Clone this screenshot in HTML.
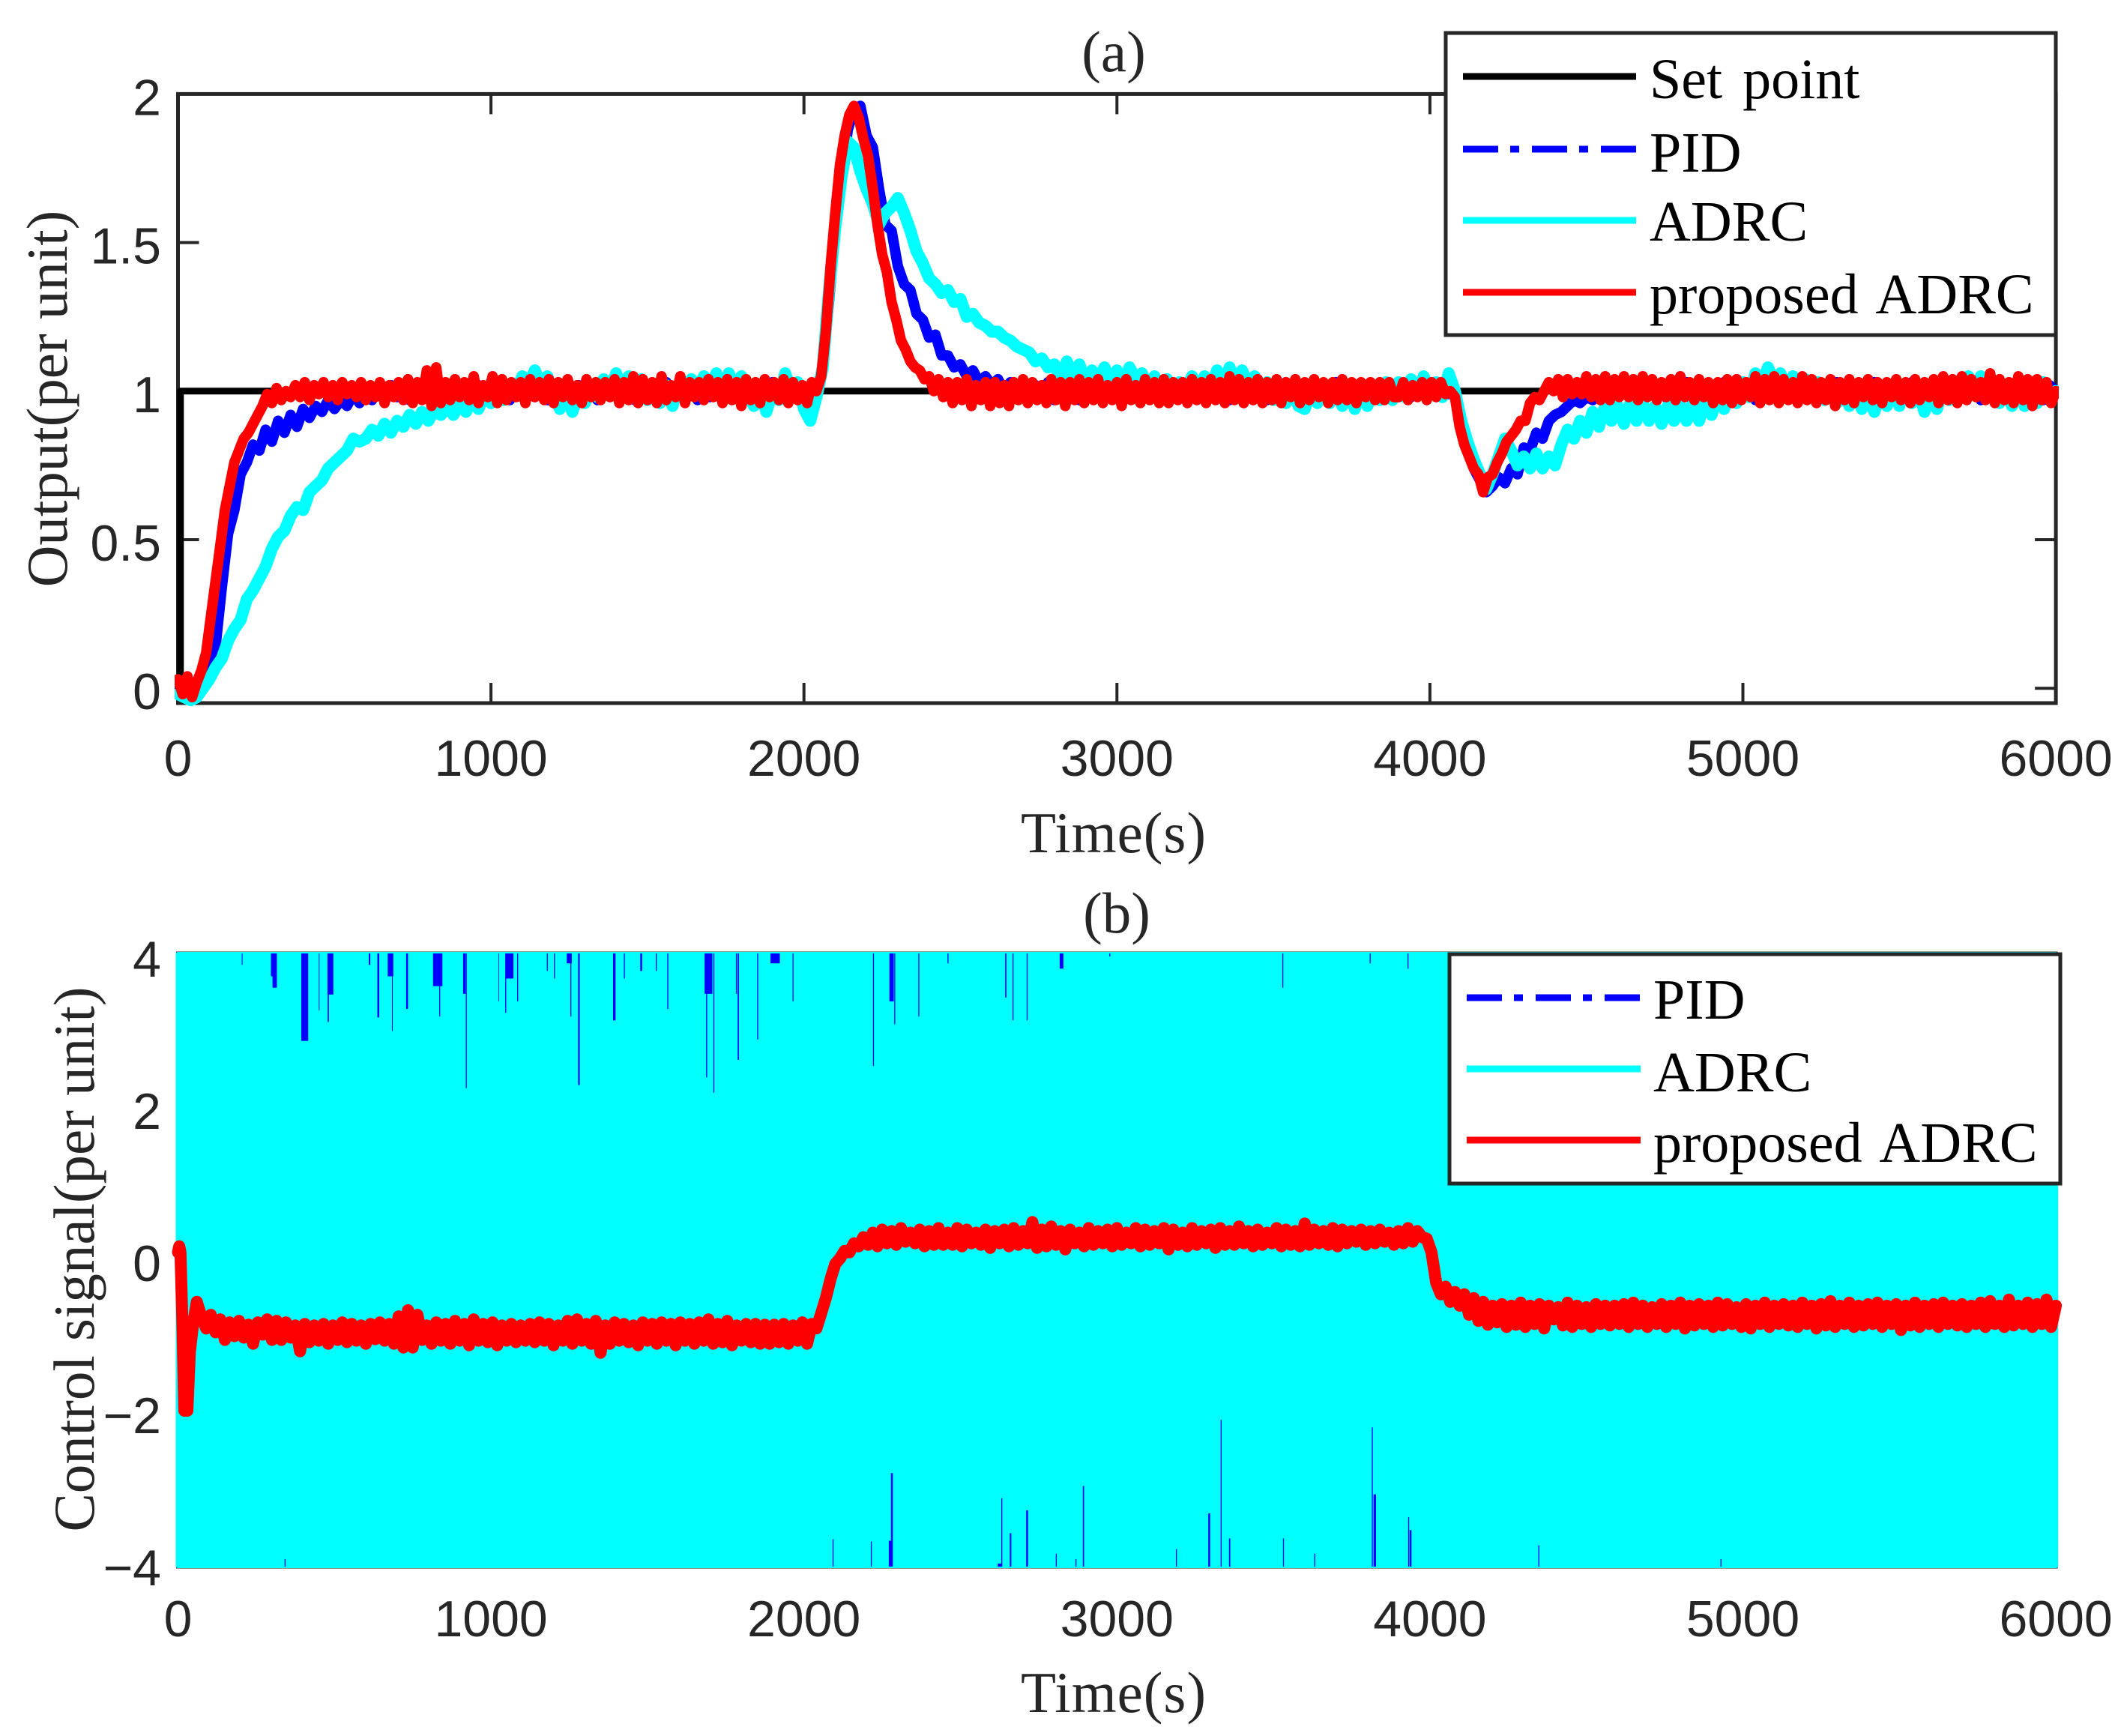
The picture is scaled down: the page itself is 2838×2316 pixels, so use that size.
<!DOCTYPE html>
<html lang="en">
<head>
<meta charset="utf-8">
<title>Output and control signal comparison</title>
<style>
html,body{margin:0;padding:0;background:#fff;}
svg{display:block;}
.serif{font-family:"Liberation Serif",serif;font-size:77px;fill:#262626;}
.time{letter-spacing:1px;}
.legend-text{font-family:"Liberation Serif",serif;font-size:76px;fill:#000;word-spacing:8px;}
.tick{font-family:"Liberation Sans",sans-serif;font-size:68px;fill:#262626;}
</style>
</head>
<body>
<svg id="figure" xmlns="http://www.w3.org/2000/svg" width="2838" height="2316" viewBox="0 0 2838 2316">
  <rect width="2838" height="2316" fill="#fff"/>
  <defs>
    <clipPath id="clipA"><rect x="233" y="125.4" width="2514" height="817"/></clipPath>
  </defs>
  <g id="axesA"></g>
  <g id="marksA" clip-path="url(#clipA)"></g>
  <g id="axesB"></g>
  <g id="marksB"></g>

  <text class="serif" x="1486" y="95" text-anchor="middle">(a)</text>
  <text class="serif time" x="1486" y="1137" text-anchor="middle">Time(s)</text>
  <text class="serif" text-anchor="middle" transform="translate(89 532) rotate(-90)">Output(per unit)</text>
  <text class="serif" x="1490" y="1244" text-anchor="middle">(b)</text>
  <text class="serif time" x="1486" y="2284" text-anchor="middle">Time(s)</text>
  <text class="serif" text-anchor="middle" transform="translate(125 1680) rotate(-90)">Control signal(per unit)</text>

  <g>
    <rect x="1929" y="44" width="814" height="403" fill="#fff" stroke="#262626" stroke-width="5"/>
    <line x1="1952" x2="2183" y1="102" y2="102" stroke="#000" stroke-width="9"/>
    <text class="legend-text" x="2201" y="131">Set point</text>
    <line x1="1952" x2="2183" y1="199" y2="199" stroke="#0000ff" stroke-width="9" stroke-dasharray="47 16 12 17"/>
    <text class="legend-text" x="2201" y="229">PID</text>
    <line x1="1952" x2="2183" y1="294" y2="294" stroke="#00ffff" stroke-width="9"/>
    <text class="legend-text" x="2201" y="321">ADRC</text>
    <line x1="1952" x2="2183" y1="390" y2="390" stroke="#ff0000" stroke-width="9"/>
    <text class="legend-text" x="2201" y="418">proposed ADRC</text>
  </g>
  <g>
    <rect x="1934" y="1273" width="815" height="306" fill="#fff" stroke="#262626" stroke-width="5"/>
    <line x1="1957" x2="2189" y1="1331" y2="1331" stroke="#0000ff" stroke-width="9" stroke-dasharray="47 16 12 17"/>
    <text class="legend-text" x="2206" y="1359">PID</text>
    <line x1="1957" x2="2189" y1="1426" y2="1426" stroke="#00ffff" stroke-width="9"/>
    <text class="legend-text" x="2206" y="1456">ADRC</text>
    <line x1="1957" x2="2189" y1="1521" y2="1521" stroke="#ff0000" stroke-width="9"/>
    <text class="legend-text" x="2206" y="1550">proposed ADRC</text>
  </g>
</svg>
<script>
// ---- shared x ticks ----
const xTickValues = [0,1000,2000,3000,4000,5000,6000];
const xTickLabels = ["0","1000","2000","3000","4000","5000","6000"];
// ---- panel (a) ticks ----
const yTickValuesA = [0,0.5,1,1.5,2];
const yTickLabelsA = ["0","0.5","1","1.5","2"];
// ---- panel (b) ticks ----
const yTickValuesB = [-4,-2,0,2,4];
const yTickLabelsB = ["\u22124","\u22122","0","2","4"];

// ---- panel (a) series ----
const setPointTime = [0,8,8,6000];
const setPointValues = [0,0,1,1];
const pidOutputStep = 20;
const pidOutput = [
.02,-.02,.01,-.03,.0,.04,.14,.34,.52,.6,.72,.76,.82,.8,.87,
.83,.9,.86,.92,.88,.94,.91,.95,.93,.97,.94,.97,.95,.99,.96,
1.0,.97,1.01,.97,1.02,.98,1.02,.97,1.02,.98,1.03,.97,1.02,.98,1.02,
.98,1.02,.97,1.02,.98,1.03,.98,1.02,.97,1.02,.98,1.02,.98,1.03,.97,
1.02,.98,1.03,.97,1.02,.98,1.02,.97,1.02,.98,1.03,.98,1.02,.97,1.02,
.98,1.02,.97,1.03,.98,1.02,.98,1.02,.97,1.02,.98,1.03,.97,1.02,.98,
.98,1.02,.97,1.02,.98,1.03,.97,1.02,.98,1.01,.98,1.01,1.0,1.08,1.3,
1.55,1.72,1.88,1.95,1.96,1.86,1.82,1.68,1.56,1.54,1.42,1.36,1.34,1.26,1.24,
1.18,1.19,1.12,1.12,1.08,1.09,1.05,1.07,1.03,1.05,1.02,1.04,1.0,1.03,.99,
1.02,.98,1.02,.98,1.03,.97,1.02,.98,1.02,.97,1.03,.98,1.02,.97,1.02,
.98,1.03,.98,1.02,.97,1.02,.98,1.03,.97,1.02,.98,1.02,.98,1.03,.97,
1.02,.98,1.02,.97,1.03,.98,1.02,.98,1.02,.97,1.02,.98,1.03,.97,1.02,
.98,1.02,.97,1.02,.98,1.03,.98,1.02,.97,1.02,.98,1.02,.97,1.03,.98,
.98,1.02,.98,1.02,.99,1.02,.98,1.02,.99,1.0,.88,.8,.74,.7,.66,
.68,.71,.69,.74,.72,.81,.8,.86,.84,.9,.92,.93,.95,.97,.96,
.98,.97,1.0,.98,1.02,.98,1.02,.98,1.02,.97,1.03,.98,1.02,.97,1.02,
.98,1.03,.97,1.02,.98,1.02,.97,1.03,.98,1.02,.98,1.02,.97,1.03,.98,
1.02,.97,1.02,.98,1.03,.98,1.02,.97,1.02,.98,1.03,.97,1.02,.98,1.02,
.97,1.03,.98,1.02,.97,1.02,.98,1.03,.98,1.02,.97,1.02,.98,1.03,.97,
1.02,.98,1.02,.97,1.03,.98,1.02,.98,1.02,.97,1.03,.98,1.02,.97,1.02,1.0];
const adrcOutputStep = 20;
const adrcOutput = [
-.02,-.03,-.04,-.03,.0,.03,.07,.1,.16,.2,.23,.3,.33,.37,.41,
.47,.51,.53,.58,.61,.6,.66,.68,.7,.74,.76,.78,.8,.84,.83,
.84,.87,.85,.89,.86,.9,.88,.92,.89,.93,.9,.94,.92,.95,.92,
.96,.93,.97,.94,.99,.96,1.0,.97,1.02,1.0,1.05,1.02,1.07,1.02,1.05,
.99,.94,.98,.93,.99,.96,1.02,.98,1.04,1.0,1.06,1.0,1.05,.98,1.04,
.97,1.02,.96,1.02,.95,1.02,.97,1.04,1.0,1.05,1.01,1.06,1.0,1.06,1.0,
1.05,.99,.95,1.0,.93,1.0,.97,1.06,1.0,1.03,.94,.9,.98,1.08,1.34,
1.55,1.72,1.84,1.82,1.74,1.68,1.63,1.56,1.6,1.62,1.65,1.6,1.54,1.47,1.43,
1.38,1.36,1.33,1.34,1.3,1.31,1.25,1.26,1.23,1.22,1.2,1.2,1.18,1.17,1.15,
1.14,1.13,1.1,1.11,1.08,1.09,1.04,1.1,1.05,1.09,1.03,1.07,1.04,1.08,1.03,
1.07,1.02,1.08,1.04,1.06,1.0,1.05,1.0,1.04,.99,1.03,1.0,1.05,1.0,1.05,
1.0,1.07,1.02,1.08,1.02,1.07,1.02,1.05,.98,1.03,.97,1.02,.96,1.02,.95,
.94,1.0,.96,1.01,.96,1.02,.95,1.0,.94,1.0,.95,1.0,.97,1.03,.97,
1.03,.98,1.04,.99,1.05,.99,1.03,.98,1.06,1.0,.9,.83,.77,.72,.67,
.72,.78,.84,.8,.75,.78,.74,.79,.74,.78,.75,.82,.87,.84,.9,
.86,.93,.88,.95,.9,.95,.89,.96,.9,.96,.9,.95,.89,.95,.9,
.95,.9,.96,.9,.97,.92,.99,.94,1.01,.96,1.03,.98,1.06,1.02,1.08,
1.03,1.06,1.0,1.05,.98,1.04,.99,1.03,.97,1.02,.96,1.01,.95,1.0,.94,
.98,.93,1.0,.95,1.02,.95,1.02,.96,1.01,.93,.99,.94,1.01,.97,1.03,
.98,1.05,1.0,1.05,.98,1.03,.96,1.02,.95,1.01,.95,1.02,.96,1.03,.98,1.0];
const proposedOutputStep = 15;
const proposedOutput = [
.03,-.02,.04,-.03,.02,.06,.12,.24,.36,.48,.6,.68,.76,.8,.84,.86,.89,.92,.95,.99,
.96,1.01,.97,1.0,.98,1.02,.98,1.03,.97,1.02,.99,1.03,.98,1.02,.97,1.03,.99,1.02,.98,1.03,
.97,1.02,.98,1.03,.96,1.02,.98,1.03,.97,1.04,.96,1.03,.97,1.07,.95,1.08,.96,1.03,.97,1.04,
.98,1.03,.97,1.05,.96,1.02,.98,1.05,.96,1.04,.97,1.03,.98,1.03,.96,1.04,.98,1.03,.97,1.04,
.96,1.03,.98,1.04,.97,1.02,.96,1.04,.98,1.03,.97,1.03,.98,1.04,.96,1.03,.97,1.05,.96,1.04,
.97,1.03,.96,1.05,.97,1.02,.98,1.05,.96,1.03,.98,1.03,.97,1.04,.98,1.03,.96,1.04,.97,1.03,
.95,1.04,.97,1.03,.96,1.04,.98,1.03,.97,1.04,.96,1.03,.97,1.02,.96,1.03,1.0,1.05,1.2,1.42,
1.6,1.76,1.86,1.93,1.96,1.92,1.85,1.79,1.68,1.56,1.46,1.4,1.3,1.24,1.17,1.14,1.1,1.08,1.07,1.04,
1.05,1.0,1.04,.98,1.03,.96,1.03,.97,1.04,.95,1.02,.97,1.03,.95,1.03,.96,1.02,.95,1.03,.97,
1.04,.96,1.03,.97,1.02,.96,1.04,.97,1.03,.95,1.03,.97,1.04,.96,1.03,.97,1.04,.96,1.02,.97,
1.03,.95,1.04,.97,1.02,.96,1.04,.97,1.03,.96,1.04,.96,1.03,.97,1.03,.96,1.04,.97,1.03,.96,
1.04,.97,1.03,.96,1.05,.97,1.04,.96,1.03,.97,1.04,.96,1.03,.97,1.04,.96,1.03,.98,1.04,.96,
1.03,.97,1.04,.98,1.03,.96,1.03,.97,1.04,.97,1.03,.96,1.03,.98,1.03,.97,1.03,.97,1.03,.98,
.98,1.03,.97,1.02,.98,1.03,.97,1.03,.98,1.03,.99,1.0,.98,.88,.82,.78,.74,.72,.66,.71,
.72,.76,.79,.83,.85,.87,.9,.9,.96,.98,.97,1.0,1.03,1.0,1.04,.98,1.04,.99,1.03,.99,
1.05,.98,1.04,.97,1.05,.97,1.04,.98,1.05,.98,1.04,.97,1.05,.98,1.04,.97,1.03,.98,1.04,.97,
1.05,.98,1.03,.97,1.04,.98,1.03,.96,1.03,.97,1.04,.96,1.04,.97,1.03,.98,1.05,.96,1.04,.97,
1.05,.96,1.04,.97,1.03,.96,1.05,.97,1.04,.96,1.03,.97,1.04,.95,1.03,.97,1.04,.96,1.03,.98,
1.04,.97,1.03,.96,1.03,.98,1.04,.97,1.03,.96,1.04,.97,1.03,.98,1.04,.96,1.05,.97,1.04,.96,
1.05,.97,1.04,.98,1.03,.97,1.06,.96,1.04,.97,1.03,.96,1.05,.97,1.04,.95,1.04,.97,1.03,.96,1.0];

// ---- panel (b) series ----
const controlEnvelopeTime = [0,6000];
const pidControlUpper = [4.02,4.02];
const pidControlLower = [-4.02,-4.02];
const adrcControlUpper = [4.02,4.02];
const adrcControlLower = [-4.02,-4.02];
// PID excursions left uncovered by the saturated ADRC trace: time, width (s), and reach
const topGapTime = [205,300,309,405,487,480,451,612,640,679,685,732,830,836,915,921,1025,1060,1047,1085,1180,1203,1250,1255,1281,1394,1426,1480,1528,1565,1695,1689,1712,1790,1784,1852,1908,1965,2222,2280,2290,2367,2460,2645,2668,2713,2823,2977,3530,3809,3930,5384];
const topGapWidth = [2.5,6,14,22,19,4,2.5,5,6,18,2.5,6,30,3,8,3,2,24,3,3,3,3,16,3,5,8,3,6,3,3,25,3,3,4,3,3,30,3,3,14,3,3,3,4,3,3,12,3,3,3,3,3];
const topGapReach = [3.88,3.73,3.58,2.88,3.49,3.13,3.28,3.88,3.19,3.73,3.01,3.3,3.6,3.2,3.5,2.26,3.4,3.7,3.25,3.4,3.8,3.7,3.9,3.2,2.3,3.15,3.7,3.8,3.8,3.3,3.5,2.4,2.2,2.63,3.5,2.9,3.9,3.4,2.55,3.4,3.1,3.2,3.9,3.45,3.15,3.15,3.83,3.99,3.58,3.9,3.83,3.98];
const bottomGapTime = [342,2093,2215,2281,2276,2625,2632,2660,2713,2806,2869,2893,3190,3295,3333,3360,3532,3632,3816,3824,3932,3938,4348,4930];
const bottomGapWidth = [3,3,3,6,10,12,3,5,6,3,3,4,3,6,3,4,3,3,3,8,3,6,3,3];
const bottomGapReach = [-3.93,-3.67,-3.7,-2.8,-3.69,-3.99,-3.13,-3.59,-3.29,-3.86,-3.93,-2.97,-3.8,-3.33,-2.1,-3.66,-3.66,-3.86,-2.2,-3.08,-3.38,-3.55,-3.75,-3.93];
const proposedControlStartTime = [0,4,8,14,20,30,38,48,60];
const proposedControlStartValues = [.1,.18,.1,-.8,-1.98,-1.98,-1.2,-.85,-.55];
const proposedControlTimeOrigin = 75;
const proposedControlStep = 15;
const proposedControl = [
-.75,-.9,-.72,-.95,-.78,-1.05,-.82,-1.0,-.8,-1.02,-.85,-1.1,-.82,-.98,-.78,-1.05,-.8,-1.05,-.82,-1.02,
-.86,-1.2,-.84,-1.08,-.86,-1.06,-.84,-1.1,-.86,-1.05,-.82,-1.08,-.84,-1.06,-.86,-1.1,-.84,-1.04,-.82,-1.06,
-.84,-1.1,-.74,-1.15,-.66,-1.15,-.72,-1.05,-.86,-1.1,-.82,-1.06,-.84,-1.1,-.8,-1.06,-.84,-1.12,-.78,-1.06,
-.84,-1.08,-.82,-1.12,-.86,-1.06,-.84,-1.08,-.86,-1.06,-.84,-1.08,-.82,-1.06,-.84,-1.12,-.86,-1.06,-.8,-1.1,
-.78,-1.06,-.84,-1.1,-.8,-1.22,-.86,-1.1,-.82,-1.06,-.84,-1.08,-.86,-1.12,-.82,-1.06,-.84,-1.1,-.82,-1.06,
-.84,-1.12,-.82,-1.06,-.84,-1.1,-.82,-1.06,-.78,-1.1,-.84,-1.08,-.8,-1.12,-.86,-1.06,-.84,-1.08,-.84,-1.1,
-.85,-1.1,-.85,-1.08,-.84,-1.1,-.86,-1.06,-.82,-1.1,-.84,-.9,-.7,-.5,-.25,-.05,.02,.12,.1,.22,
.18,.3,.2,.36,.18,.4,.22,.38,.2,.42,.24,.36,.22,.4,.18,.38,.2,.42,.2,.36,
.2,.42,.18,.4,.22,.36,.2,.4,.16,.38,.22,.4,.18,.42,.2,.38,.22,.5,.16,.4,
.18,.44,.2,.38,.14,.4,.22,.36,.18,.42,.2,.38,.22,.4,.18,.42,.2,.36,.22,.42,
.18,.4,.2,.38,.22,.42,.14,.4,.2,.36,.18,.42,.2,.38,.22,.4,.16,.42,.2,.38,
.2,.44,.22,.38,.18,.4,.2,.36,.22,.42,.18,.4,.2,.38,.18,.48,.2,.4,.22,.38,
.2,.42,.18,.4,.22,.38,.24,.4,.2,.38,.22,.4,.24,.36,.2,.38,.22,.42,.24,.38,
.3,.28,.1,-.3,-.45,-.35,-.55,-.42,-.6,-.45,-.72,-.5,-.8,-.55,-.85,-.6,-.82,-.58,-.88,-.6,
-.85,-.56,-.88,-.6,-.84,-.58,-.9,-.6,-.78,-.62,-.86,-.56,-.88,-.6,-.84,-.62,-.88,-.58,-.84,-.6,
-.86,-.6,-.84,-.58,-.88,-.56,-.84,-.6,-.88,-.62,-.84,-.58,-.88,-.6,-.84,-.56,-.9,-.6,-.86,-.58,
-.84,-.6,-.88,-.56,-.86,-.58,-.84,-.62,-.88,-.58,-.9,-.6,-.84,-.56,-.88,-.6,-.84,-.58,-.86,-.6,
-.88,-.56,-.84,-.6,-.9,-.58,-.86,-.54,-.88,-.6,-.84,-.56,-.88,-.6,-.86,-.58,-.84,-.56,-.88,-.6,
-.84,-.58,-.92,-.6,-.86,-.56,-.88,-.6,-.84,-.58,-.88,-.56,-.84,-.6,-.86,-.58,-.88,-.6,-.84,-.56,
-.88,-.54,-.84,-.6,-.88,-.52,-.86,-.6,-.84,-.56,-.88,-.58,-.84,-.52,-.88,-.6];

const NS = "http://www.w3.org/2000/svg";
// linear axis scales
function scale(d0,d1,r0,r1){ return v => r0 + (v-d0)*(r1-r0)/(d1-d0); }
const xA = scale(0,6000,237.5,2743.1);
const yA = scale(0,2,918.2,125.4);
const xB = scale(0,6000,237.5,2743.1);
const yB = scale(-4,4,2087,1275);

function make(tag, attrs, parent){
  const el = document.createElementNS(NS, tag);
  for (const k in attrs) el.setAttribute(k, attrs[k]);
  parent.appendChild(el);
  return el;
}
function pointsOf(ts, vs, xf, yf){
  return ts.map((t,i) => xf(t).toFixed(1)+","+yf(vs[i]).toFixed(1)).join(" ");
}
function drawLine(parent, name, ts, vs, xf, yf, color, width){
  const el = make("polyline", {points:pointsOf(ts,vs,xf,yf), fill:"none", stroke:color, "stroke-width":width, "stroke-linejoin":"round", "stroke-linecap":"round"}, parent);
  
  
  return el;
}
function drawAxes(parent, xf, yf, left, top, right, bottom, yVals, yLabels, labelBaseY){
  const box = make("rect", {x:left, y:top, width:right-left, height:bottom-top, fill:"#fff", stroke:"#262626", "stroke-width":5}, parent);
  
  
  xTickValues.forEach((v,i) => {
    const x = xf(v);
    const t1 = make("line", {x1:x, x2:x, y1:bottom, y2:bottom-27, stroke:"#262626", "stroke-width":4}, parent);
    
    
    const t2 = make("line", {x1:x, x2:x, y1:top, y2:top+27, stroke:"#262626", "stroke-width":4}, parent);
    
    
    const lab = make("text", {x:x, y:labelBaseY, "text-anchor":"middle", class:"tick"}, parent);
    
    
    lab.textContent = xTickLabels[i];
  });
  yVals.forEach((v,i) => {
    const y = yf(v);
    const t1 = make("line", {x1:left, x2:left+28, y1:y, y2:y, stroke:"#262626", "stroke-width":4}, parent);
    
    
    const t2 = make("line", {x1:right, x2:right-28, y1:y, y2:y, stroke:"#262626", "stroke-width":4}, parent);
    
    
    const lab = make("text", {x:215, y:y+28, "text-anchor":"end", class:"tick"}, parent);
    
    
    lab.textContent = yLabels[i];
  });
}
function uniformTimes(values, step, origin){
  return values.map((_,i) => origin + i*step);
}
function drawEnvelope(parent, name, ts, upper, lower, xf, yf, color, strokeW){
  const pts = pointsOf(ts,upper,xf,yf)+" "+pointsOf(ts.slice().reverse(),lower.slice().reverse(),xf,yf);
  const el = make("polygon", {points:pts, fill:color, stroke:color, "stroke-width":strokeW, "stroke-linejoin":"round"}, parent);
  
  
  return el;
}
function drawGaps(parent, name, ts, ws, reach, edge, xf, yf, color){
  ts.forEach((t,i) => {
    const x0 = xf(t-ws[i]/2), x1 = xf(t+ws[i]/2);
    const y0 = Math.min(yf(edge), yf(reach[i])), y1 = Math.max(yf(edge), yf(reach[i]));
    const el = make("rect", {x:x0.toFixed(1), y:y0.toFixed(1), width:(x1-x0).toFixed(1), height:(y1-y0).toFixed(1), fill:color}, parent);
    
    
  });
}

const axesA = document.getElementById("axesA");
const marksA = document.getElementById("marksA");
const axesB = document.getElementById("axesB");
const marksB = document.getElementById("marksB");

drawAxes(axesA, xA, yA, 237.5, 125.4, 2743.1, 938, yTickValuesA, yTickLabelsA, 1035);
drawLine(marksA, 'set-point-line', setPointTime, setPointValues, xA, yA, "#000", 9);
drawLine(marksA, 'pid-output-line', uniformTimes(pidOutput,pidOutputStep,0), pidOutput, xA, yA, "#0000ff", 14);
drawLine(marksA, 'adrc-output-line', uniformTimes(adrcOutput,adrcOutputStep,0), adrcOutput, xA, yA, "#00ffff", 16);
drawLine(marksA, 'proposed-adrc-output-line', uniformTimes(proposedOutput,proposedOutputStep,0), proposedOutput, xA, yA, "#ff0000", 14);

drawAxes(axesB, xB, yB, 237.5, 1272, 2743.1, 2090, yTickValuesB, yTickLabelsB, 2183);
drawEnvelope(marksB, 'pid-control-band', controlEnvelopeTime, pidControlUpper, pidControlLower, xB, yB, "#0000ff", 6);
drawEnvelope(marksB, 'adrc-control-band', controlEnvelopeTime, adrcControlUpper, adrcControlLower, xB, yB, "#00ffff", 6);
drawGaps(marksB, 'pid-control-top-spike', topGapTime, topGapWidth, topGapReach, 4.03, xB, yB, "#0000ff");
drawGaps(marksB, 'pid-control-bottom-spike', bottomGapTime, bottomGapWidth, bottomGapReach, -4.03, xB, yB, "#0000ff");
const proposedControlTimes = proposedControlStartTime.concat(uniformTimes(proposedControl,proposedControlStep,proposedControlTimeOrigin));
const proposedControlAll = proposedControlStartValues.concat(proposedControl);
drawLine(marksB, 'proposed-adrc-control-line', proposedControlTimes, proposedControlAll, xB, yB, "#ff0000", 16);
</script>
</body>
</html>
